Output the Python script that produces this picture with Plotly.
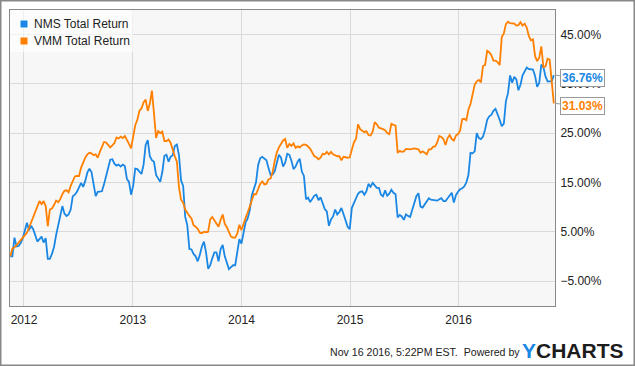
import pandas as pd
import plotly.graph_objects as go

start_date = "2011-11-16"
series_names = ["NMS Total Return", "VMM Total Return"]
end_labels = ["36.76%", "31.03%"]

nms = [0.0, 0.0, 3.8, 2.0, 2.1, 2.7, 3.7, 5.0, 6.8, 5.3,
       6.2, 5.5, 4.2, 3.0, 3.5, 4.0, 2.8, 3.7, -0.5, -0.5,
       0.5, 1.9, 4.3, 6.3, 8.7, 10.2, 8.7, 8.2, 8.5, 9.5,
       12.2, 12.5, 13.1, 14.1, 14.9, 14.1, 15.3, 17.0, 17.8, 17.1,
       15.0, 12.2, 13.1, 13.1, 13.2, 14.6, 16.2, 17.8, 19.6, 19.7,
       18.8, 18.4, 18.6, 18.2, 18.6, 18.3, 15.7, 15.1, 12.5, 14.3,
       17.8, 17.7, 17.1, 16.7, 18.6, 22.6, 23.6, 20.3, 19.5, 19.2,
       16.5, 15.7, 15.1, 17.1, 20.4, 20.6, 19.2, 20.2, 20.5, 22.4,
       22.7, 20.5, 15.4, 14.3, 8.0, 6.3, 1.5, 1.4, 0.5, 0.0,
       -1.0, 0.3, 2.0, 3.0, 0.8, -2.5, -1.8, -0.4, 0.8, 0.8,
       -1.0, 1.5, 2.3, 0.0, -1.5, -2.6, -2.2, -1.8, -1.8, 0.5,
       3.5, 2.6, 4.6, 6.9, 7.7, 9.4, 12.4, 13.6, 15.0, 18.5,
       19.9, 20.2, 19.9, 19.5, 17.9, 16.5, 16.6, 17.3, 19.0, 20.6,
       20.0, 18.2, 19.0, 20.8, 20.6, 19.4, 17.7, 18.2, 19.2, 19.8,
       17.2, 16.3, 11.6, 11.9, 11.0, 11.8, 12.3, 12.5, 11.4, 12.0,
       10.9, 9.6, 9.1, 6.2, 7.5, 8.1, 9.5, 8.5, 9.0, 9.8,
       8.6, 7.5, 6.0, 5.5, 9.8, 10.8, 11.8, 12.7, 13.1, 13.2,
       12.5, 13.2, 14.7, 14.1, 14.9, 14.3, 13.9, 13.9, 12.5, 12.2,
       13.4, 12.3, 12.7, 13.5, 12.9, 12.6, 7.9, 8.4, 8.1, 7.4,
       8.5, 8.2, 8.0, 9.4, 10.7, 12.2, 12.8, 10.1, 9.9, 10.6,
       11.2, 11.8, 11.5, 11.4, 11.4, 11.3, 11.6, 11.8, 11.2, 11.2,
       11.8, 12.3, 12.9, 10.9, 12.4, 13.1, 13.6, 13.8, 14.2, 15.0,
       16.5, 21.0, 20.9, 21.3, 25.0, 24.0, 23.8, 24.3, 25.7, 27.7,
       28.4, 28.7, 29.5, 29.9, 28.9, 27.7, 26.4, 26.9, 31.5, 33.1,
       36.7, 35.2, 36.4, 35.9, 33.7, 34.8, 36.7, 37.5, 38.3, 38.0,
       38.0, 37.9, 36.6, 34.4, 35.2, 38.9, 38.4, 36.5, 35.5, 35.5,
       35.5, 36.76]

vmm = [0.0, 1.6, 1.8, 2.3, 2.8, 3.1, 3.6, 4.3, 4.8, 5.8,
       6.9, 8.0, 9.1, 10.3, 11.2, 10.6, 11.2, 10.2, 6.1, 9.5,
       9.7, 10.4, 11.3, 11.0, 11.6, 12.6, 13.3, 13.4, 13.0, 14.3,
       15.4, 16.2, 16.3, 16.3, 18.0, 19.1, 20.0, 20.7, 21.0, 20.9,
       20.5, 20.7, 20.0, 21.2, 22.1, 23.2, 23.1, 22.5, 22.1, 22.5,
       23.0, 24.1, 23.9, 24.3, 24.0, 24.4, 23.7, 22.8, 21.9, 24.7,
       26.6, 27.7, 29.5, 30.0, 31.2, 31.8, 29.5, 31.0, 33.6, 29.0,
       24.0, 25.4, 25.0, 25.3, 23.4, 23.4, 23.7, 23.0, 21.4, 20.3,
       19.2, 14.0, 11.5, 10.9, 9.5, 8.7, 8.2, 7.7, 6.3, 6.0,
       5.6, 4.8, 4.7, 5.0, 4.9, 5.0, 7.5, 8.0, 7.3, 6.7,
       6.0, 7.4, 8.5, 6.6, 5.9, 4.9, 4.0, 3.8, 3.8, 4.6,
       6.4, 5.3, 6.8, 7.8, 8.9, 10.1, 11.6, 12.6, 12.6, 13.6,
       14.7, 15.2, 14.6, 14.7, 15.6, 15.8, 17.1, 19.4, 21.1, 22.1,
       22.7, 23.5, 23.8, 22.0, 22.8, 22.4, 22.9, 22.0, 22.3, 22.1,
       22.5, 22.7, 22.6, 22.3, 21.8, 20.9, 20.3, 20.1, 19.7, 20.0,
       20.8, 20.7, 21.2, 20.7, 21.2, 20.7, 20.5, 20.3, 20.3, 19.5,
       20.2, 20.1, 20.0, 20.1, 21.9, 23.1, 23.8, 26.8, 25.8, 25.4,
       25.2, 25.4, 24.6, 24.5, 25.3, 27.2, 26.8, 26.1, 26.0, 25.8,
       25.6, 25.0, 24.8, 26.9, 26.7, 26.5, 21.0, 21.4, 21.2, 21.3,
       21.8, 21.7, 21.7, 21.8, 21.9, 21.8, 21.7, 21.0, 21.3, 21.0,
       20.7, 21.7, 21.7, 22.2, 22.3, 23.1, 24.4, 24.2, 23.8, 22.6,
       24.0, 24.6, 23.8, 23.5, 24.5, 24.8, 25.5, 27.8, 27.9, 27.6,
       29.8, 30.9, 32.6, 34.8, 35.5, 35.8, 35.3, 38.6, 38.8, 41.7,
       41.4, 40.8, 39.7, 39.7, 39.4, 38.8, 44.5, 45.2, 47.1, 47.6,
       47.3, 47.3, 47.2, 46.8, 46.9, 47.5, 46.8, 47.2, 46.4, 44.7,
       43.8, 44.0, 40.6, 39.6, 40.3, 42.6, 38.4, 38.5, 40.1, 39.9,
       34.5, 31.03]

dates = pd.date_range(start=start_date, periods=len(nms), freq="7D")

BLUE = "#1a87e4"
ORANGE = "#ff8000"
FONT = "Liberation Sans, Arial, sans-serif"

# plot area geometry (pixels) used to place decorations in paper coords
W, H = 635, 366
ML, MR, MT, MB = 10, 80, 10, 60
PW, PH = W - ML - MR, H - MT - MB


def px(x):
    return (x - ML) / PW


def py(y):
    return (H - MB - y) / PH


fig = go.Figure()
for vals, col in [(nms, BLUE), (vmm, ORANGE)]:
    fig.add_trace(go.Scatter(x=dates, y=vals, mode="lines", line=dict(color=col, width=1.8),
                             showlegend=False, hoverinfo="skip"))

# legend (box, squares, labels)
fig.add_shape(type="rect", xref="paper", yref="paper", x0=px(10), x1=px(133), y0=py(52), y1=py(10),
              line=dict(width=0), fillcolor="rgba(255,255,255,0.6)", layer="above")
for i, (col, name) in enumerate([(BLUE, series_names[0]), (ORANGE, series_names[1])]):
    cy = 24 + 17 * i
    fig.add_shape(type="rect", xref="paper", yref="paper", x0=px(20.5), x1=px(27.5),
                  y0=py(cy + 3.5), y1=py(cy - 3.5), line=dict(width=0), fillcolor=col, layer="above")
    fig.add_annotation(x=px(31.5), y=py(cy), xref="paper", yref="paper", xanchor="left",
                       yanchor="middle", text=name, showarrow=False,
                       font=dict(family=FONT, size=12, color="#222222"))

# end value labels
for vals, col, txt in [(nms, BLUE, end_labels[0]), (vmm, ORANGE, end_labels[1])]:
    fig.add_annotation(x=1.0, xref="paper", y=vals[-1], yref="y", text="<b>" + txt + "</b>",
                       showarrow=True, arrowhead=0, arrowwidth=1, arrowcolor="#999999",
                       ax=27, ay=3, xanchor="center",
                       font=dict(family=FONT, size=12, color=col),
                       bgcolor="white", bordercolor="#999999", borderwidth=1, borderpad=1)

# footer
fig.add_annotation(x=px(522), y=py(352), xref="paper", yref="paper", xanchor="right", yanchor="middle",
                   text="Nov 16 2016, 5:22PM EST.  Powered by", showarrow=False,
                   font=dict(family=FONT, size=10.6, color="#222222"))
fig.add_annotation(x=px(520), y=py(350), xref="paper", yref="paper", xanchor="left", yanchor="middle",
                   text="<b><span style='color:%s'>Y</span>CHARTS</b>" % BLUE, showarrow=False,
                   font=dict(family=FONT, size=21, color="#1c1c1c"))

# outer frame
fig.add_shape(type="rect", xref="paper", yref="paper", x0=px(0.75), x1=px(634.25), y0=py(365.25),
              y1=py(0.75), line=dict(color="#888888", width=1.5), fillcolor="rgba(0,0,0,0)",
              layer="above")

fig.update_layout(
    width=W, height=H,
    margin=dict(l=ML, r=MR, t=MT, b=MB),
    paper_bgcolor="white", plot_bgcolor="#f7f7f7",
    font=dict(family=FONT, size=12, color="#222222"),
    showlegend=False,
    xaxis=dict(type="date", range=["2011-11-15", "2016-11-20"], tick0="2012-01-01", dtick="M12",
               tickformat="%Y", showgrid=True, gridcolor="#dadada", gridwidth=1,
               showline=True, linecolor="#888888", linewidth=1, mirror=True,
               ticks="outside", ticklen=3, tickcolor="rgba(0,0,0,0)", zeroline=False),
    yaxis=dict(range=[-10.07, 49.97], side="right", tick0=-5, dtick=10, tickformat=".2f",
               ticksuffix="%", showgrid=True, gridcolor="#dadada", gridwidth=1,
               showline=True, linecolor="#888888", linewidth=1, mirror=True,
               ticks="outside", ticklen=2, tickcolor="rgba(0,0,0,0)", zeroline=False),
)

fig.write_html("out.html", config={"displayModeBar": False},
               post_script="document.body.style.margin='0';")
